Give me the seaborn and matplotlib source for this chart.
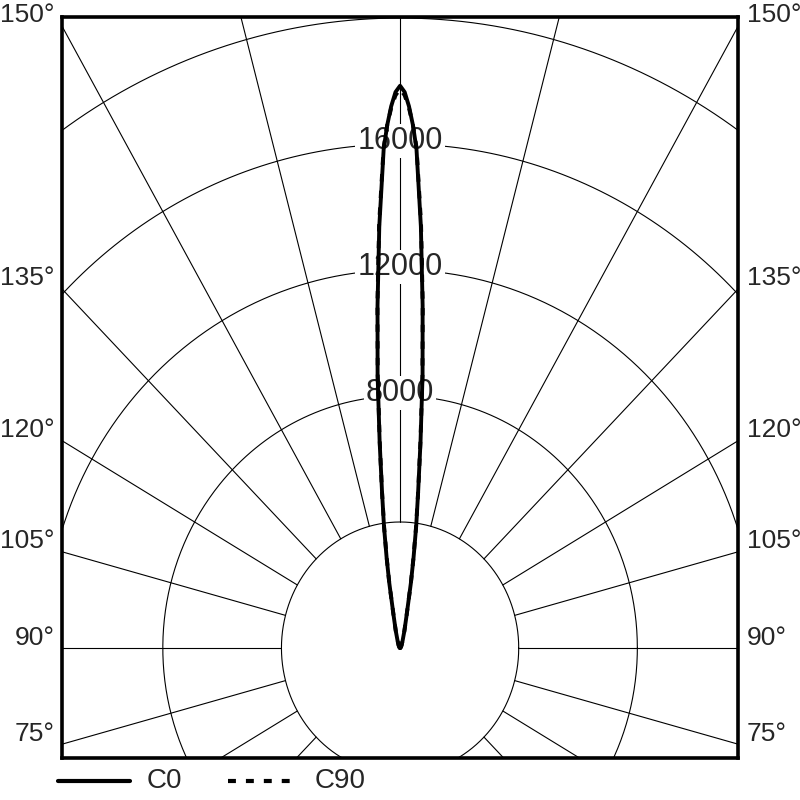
import numpy as np
import pandas as pd
import matplotlib
matplotlib.use("Agg")
import matplotlib.pyplot as plt
import seaborn as sns
from matplotlib.lines import Line2D

# off-axis angle from the 180 deg direction (deg) and intensity (cd)
angles = [0, 0.5, 1, 1.5, 2, 3, 4, 5, 6, 7, 8, 9, 10, 12, 15, 20, 30, 45, 60, 90]
c0 = [17850, 17650, 17200, 16600, 15850, 13400, 10900, 8700, 6600, 5000,
      3900, 2900, 2100, 1050, 560, 250, 100, 40, 15, 0]
c90 = [17750, 17550, 17150, 16600, 15900, 13500, 10950, 8650, 6550, 5000,
       3850, 2850, 2100, 1050, 560, 250, 100, 40, 15, 0]

rings = [4000, 8000, 12000, 16000, 20000, 24000]
ring_labels = [8000, 12000, 16000]
spokes = list(range(0, 360, 15))
side_labels = [75, 90, 105, 120, 135, 150]


def to_xy(ang, vals):
    # mirror the half curve so it runs from one side of the beam to the other
    a = np.array([-x for x in ang[::-1]] + ang[1:], dtype=float)
    v = np.array(vals[::-1] + vals[1:], dtype=float)
    rad = np.deg2rad(a)
    return pd.DataFrame({"x": v * np.sin(rad), "y": v * np.cos(rad)})


sns.set_style("white")
plt.rcParams["font.family"] = ["Liberation Sans", "DejaVu Sans"]

fig = plt.figure(figsize=(8, 8), dpi=100)
ax = fig.add_axes([0.0771, 0.0519, 0.846, 0.9269])
XL = 11410
ax.set_xlim(-XL, XL)
ax.set_ylim(-3508, 20034)

# grid: rings and spokes
t = np.linspace(0, 2 * np.pi, 721)
for r in rings:
    ax.plot(r * np.cos(t), r * np.sin(t), color="black", lw=0.8, zorder=1)
for g in spokes:
    rad = np.deg2rad(g)
    ax.plot([4000 * np.sin(rad), 40000 * np.sin(rad)],
            [-4000 * np.cos(rad), -40000 * np.cos(rad)],
            color="black", lw=0.8, zorder=1)

for r in ring_labels:
    ax.annotate(str(r), (0, r), xytext=(0, 2), textcoords="offset points",
                ha="center", va="center", fontsize=22, zorder=2,
                bbox=dict(fc="white", ec="none", pad=1.5))

# intensity curves
d0 = to_xy(angles, c0)
d90 = to_xy(angles, c90)
sns.lineplot(data=d90, x="x", y="y", sort=False, estimator=None, ax=ax,
             color="black", lw=2.8, linestyle=(0, (1.9, 2.4)), zorder=3)
sns.lineplot(data=d0, x="x", y="y", sort=False, estimator=None, ax=ax,
             color="black", lw=2.8, zorder=4)

# angle labels on both sides of the frame
for g in side_labels:
    rad = np.deg2rad(g)
    yy = -XL * np.cos(rad) / np.sin(rad)
    ax.annotate(f"{g}°", (-XL, yy), xytext=(-5, 7.5), textcoords="offset points",
                ha="right", va="center", fontsize=19, annotation_clip=False)
    ax.annotate(f"{g}°", (XL, yy), xytext=(6, 7.5), textcoords="offset points",
                ha="left", va="center", fontsize=19, annotation_clip=False)

ax.set_xticks([])
ax.set_yticks([])
ax.set_xlabel("")
ax.set_ylabel("")
for s in ax.spines.values():
    s.set_visible(True)
    s.set_color("black")
    s.set_linewidth(2.6)

# legend under the frame
ly = 1 - 781 / 800
fig.add_artist(Line2D([58 / 800, 130 / 800], [ly, ly], color="black", lw=3,
                      transform=fig.transFigure))
fig.text(147 / 800, ly, "C0", fontsize=20, va="center", ha="left")
fig.add_artist(Line2D([228 / 800, 290 / 800], [ly, ly], color="black", lw=3,
                      linestyle=(0, (1.9, 2.4)), transform=fig.transFigure))
fig.text(315 / 800, ly, "C90", fontsize=20, va="center", ha="left")

fig.savefig("out.png", dpi=100)
